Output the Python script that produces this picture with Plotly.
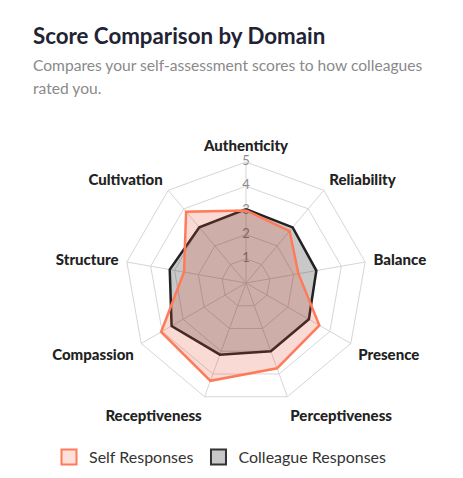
import plotly.graph_objects as go

categories = ["Authenticity", "Reliability", "Balance", "Presence", "Perceptiveness",
              "Receptiveness", "Compassion", "Structure", "Cultivation"]
self_scores = [3.0, 2.8, 2.2, 3.5, 3.75, 4.3, 4.05, 2.6, 3.85]
colleague_scores = [3.05, 3.0, 2.95, 3.0, 3.0, 3.15, 3.55, 3.2, 3.0]
radial_ticks = [1, 2, 3, 4, 5]

FONT = "Lato"
W, H = 455, 470  # page body keeps an 8px margin, so the figure is a little smaller


def closed(values):
    return values + values[:1]


def px(x, y):
    # screen pixel -> paper coords (figure starts 8px in from the window edge)
    return (x - 8) / W, 1 - (y - 8) / H


fig = go.Figure()

# radial tick numbers, drawn along the first spoke
fig.add_trace(go.Scatterpolar(
    r=radial_ticks, theta=[categories[0]] * len(radial_ticks),
    mode="text", text=[str(t) for t in radial_ticks],
    textfont=dict(size=13, color="#8c8c8c", family=FONT),
    showlegend=False, hoverinfo="skip",
))
fig.add_trace(go.Scatterpolar(
    r=closed(colleague_scores), theta=closed(categories),
    mode="lines", fill="toself", showlegend=False,
    fillcolor="rgba(0,0,0,0.215)", line=dict(color="#222222", width=2.5),
    hoverinfo="skip",
))
fig.add_trace(go.Scatterpolar(
    r=closed(self_scores), theta=closed(categories),
    mode="lines", fill="toself", showlegend=False,
    fillcolor="rgba(230,70,40,0.2)", line=dict(color="#ff7a59", width=2.5),
    hoverinfo="skip",
))

# legend swatches
fig.add_trace(go.Scatterpolar(
    r=[None], theta=[None], mode="markers", name="Self Responses",
    marker=dict(symbol="square", size=15, color="#fde0d9",
                line=dict(color="#ff7a59", width=2)),
))
fig.add_trace(go.Scatterpolar(
    r=[None], theta=[None], mode="markers", name="Colleague Responses",
    marker=dict(symbol="square", size=15, color="#c8c8c8",
                line=dict(color="#333333", width=2)),
))

x0, y_title = px(31, 35)
_, y_sub1 = px(31, 65)
_, y_sub2 = px(31, 88)
annotations = [
    dict(text="<b>Score Comparison by Domain</b>", x=x0, y=y_title,
         font=dict(size=22.3, color="#1f2333", family=FONT)),
    dict(text="Compares your self-assessment scores to how colleagues", x=x0, y=y_sub1,
         font=dict(size=15.6, color="#8a8a8a", family=FONT)),
    dict(text="rated you.", x=x0, y=y_sub2,
         font=dict(size=15.6, color="#8a8a8a", family=FONT)),
]
for a in annotations:
    a.update(xref="paper", yref="paper", xanchor="left", yanchor="middle", showarrow=False)

dx0, dy1 = px(125, 162)
dx1, dy0 = px(367, 404)
lx, ly = px(49, 457)

fig.update_layout(
    width=W, height=H,
    margin=dict(l=0, r=0, t=0, b=0),
    paper_bgcolor="white",
    font=dict(family=FONT, color="#333"),
    annotations=annotations,
    polar=dict(
        domain=dict(x=[dx0, dx1], y=[dy0, dy1]),
        bgcolor="white",
        gridshape="linear",
        angularaxis=dict(
            rotation=90, direction="clockwise",
            tickfont=dict(size=15, color="#222", family=FONT + " Black"),
            gridcolor="#d6d6d6", linecolor="#d6d6d6", showline=True,
            ticks="outside", ticklen=5, tickcolor="rgba(0,0,0,0)",
        ),
        radialaxis=dict(
            range=[0, 5], tickvals=radial_ticks, showticklabels=False,
            gridcolor="#d6d6d6", showline=False, ticks="",
        ),
    ),
    legend=dict(
        orientation="h",
        x=lx, xanchor="left", y=ly, yanchor="middle",
        font=dict(size=16, color="#333"),
    ),
)

fig.write_html("out.html")
